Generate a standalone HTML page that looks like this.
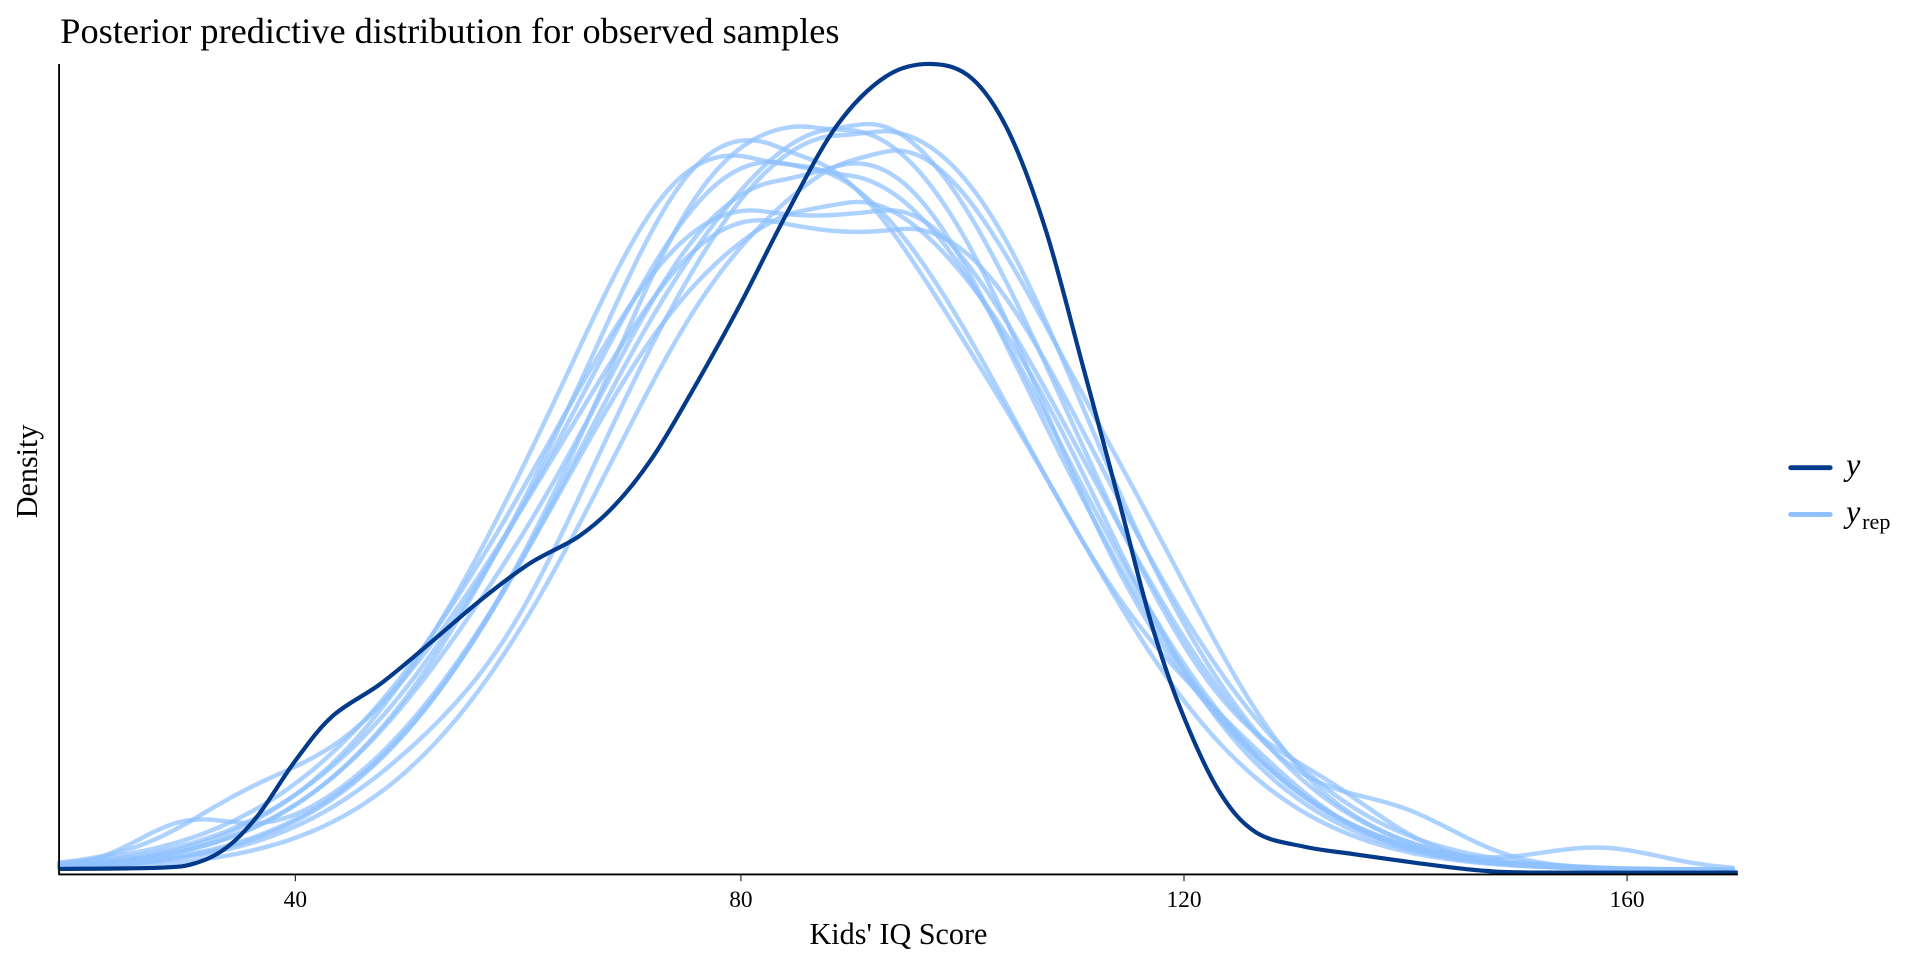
<!DOCTYPE html>
<html><head><meta charset="utf-8"><style>
html,body{margin:0;padding:0;background:#fff;}
svg{display:block;}
text{font-family:"Liberation Serif",serif;fill:#000;}
</style></head><body>
<svg id="s" width="1920" height="960" viewBox="0 0 1560 780" xmlns="http://www.w3.org/2000/svg">
<text x="49" y="35" font-size="29.5">Posterior predictive distribution for observed samples</text>
<g id="rep" fill="none" stroke="#8fc1ff" stroke-width="3.6" stroke-opacity="0.72" stroke-linecap="round"></g>
<path id="yc" fill="none" stroke="#033a8a" stroke-width="3.4"/>
<line x1="48" y1="52" x2="48" y2="711" stroke="#000" stroke-width="1.5"/>
<line x1="48" y1="710.5" x2="1412" y2="710.5" stroke="#000" stroke-width="1.5"/>
<g stroke="#333" stroke-width="1">
<line x1="240" y1="711" x2="240" y2="716"/><line x1="602" y1="711" x2="602" y2="716"/>
<line x1="962" y1="711" x2="962" y2="716"/><line x1="1322" y1="711" x2="1322" y2="716"/>
</g>
<g font-size="19" text-anchor="middle">
<text x="240" y="737" fill="#4d4d4d">40</text><text x="602" y="737" fill="#4d4d4d">80</text>
<text x="962" y="737" fill="#4d4d4d">120</text><text x="1322" y="737" fill="#4d4d4d">160</text>
</g>
<text x="730" y="767" font-size="24.5" text-anchor="middle">Kids' IQ Score</text>
<text transform="translate(30,383) rotate(-90)" font-size="24.5" text-anchor="middle">Density</text>
<line x1="1455" y1="380" x2="1487" y2="380" stroke="#033a8a" stroke-width="4" stroke-linecap="round"/>
<line x1="1455" y1="418" x2="1487" y2="418" stroke="#8fc1ff" stroke-width="4" stroke-linecap="round"/>
<text x="1500" y="386" font-size="26" font-style="italic">y</text>
<text x="1500" y="424" font-size="26" font-style="italic">y</text>
<text x="1513" y="430" font-size="18">rep</text>
</svg>
<script>
function cr(p){var d="M"+p[0][0]+","+p[0][1];for(var i=0;i<p.length-1;i++){var a=p[i-1]||p[i],b=p[i],c=p[i+1],e=p[i+2]||c;
d+=" C"+(b[0]+(c[0]-a[0])/6).toFixed(1)+","+(b[1]+(c[1]-a[1])/6).toFixed(1)+" "+(c[0]-(e[0]-b[0])/6).toFixed(1)+","+(c[1]-(e[1]-b[1])/6).toFixed(1)+" "+c[0]+","+c[1];}return d;}
var yp=[[48,706],[130,705],[160,701],[185,688],[210,662],[240,618],[270,582],[310,555],[350,522],[390,488],[430,458],[470,436],[500,410],[530,372],[560,322],[600,250],[640,172],[680,102],[720,62],[757,52],[790,64],[820,108],[850,188],[880,298],[910,410],[935,505],[960,578],[990,642],[1020,676],[1060,688],[1100,694],[1150,701],[1200,707],[1250,709],[1412,709]];
document.getElementById("yc").setAttribute("d",cr(yp));
// [cL, cR, sdL, sdR, height, bumps]
var C=[
[660,690,180,172,600,[[560,50,0.04],[900,60,-0.04]]],
[670,700,185,168,610,[[600,60,-0.03],[1080,50,0.04]]],
[630,660,178,178,580,[[560,50,0.05],[760,60,-0.05]]],
[680,710,185,170,595,[[820,60,0.04],[420,50,-0.03]]],
[640,690,190,175,560,[[580,60,0.04],[1300,50,0.03]]],
[630,680,180,180,555,[[740,60,0.05],[470,60,-0.04]]],
[620,720,190,170,520,[[560,70,0.04],[740,50,0.03],[1140,50,0.05]]],
[630,730,195,172,512,[[580,60,0.04],[800,60,0.03],[200,50,0.04]]],
[610,650,175,185,570,[[540,50,0.04],[1000,60,0.04]]],
[650,690,182,172,545,[[600,50,-0.03],[860,60,0.05],[150,40,0.05]]],
[690,720,180,166,590,[[640,50,-0.04],[950,60,0.05]]]
];
var g=document.getElementById("rep");
C.forEach(function(c){
 var pts=[];for(var x=48;x<=1412;x+=8){var v;
 if(x<c[0])v=Math.exp(-0.5*Math.pow((x-c[0])/c[2],2));else if(x>c[1])v=Math.exp(-0.5*Math.pow((x-c[1])/c[3],2));else v=1;
 c[5].forEach(function(b){v+=b[2]*Math.exp(-0.5*Math.pow((x-b[0])/b[1],2));});
 v+=0.004;pts.push([x,+(709-Math.max(v,0)*c[4]).toFixed(1)]);}
 var p=document.createElementNS("http://www.w3.org/2000/svg","path");p.setAttribute("d",cr(pts));g.appendChild(p);
});
</script>
</body></html>
